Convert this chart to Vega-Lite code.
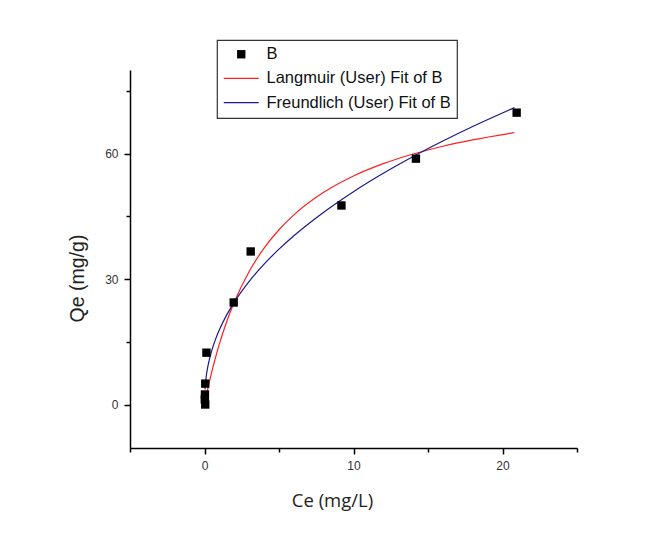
{
  "$schema": "https://vega.github.io/schema/vega-lite/v6.json",
  "autosize": "none",
  "width": 447,
  "height": 378,
  "padding": {"left": 130, "top": 70, "right": 82, "bottom": 85},
  "background": "white",
  "config": {
    "view": {"stroke": null},
    "axis": {
      "domainColor": "#000",
      "domainWidth": 1.5,
      "tickColor": "#000",
      "tickWidth": 1.5,
      "grid": false,
      "labelFont": "Liberation Sans",
      "labelFontSize": 12,
      "labelColor": "#333",
      "titleFontWeight": "normal",
      "titleColor": "#222"
    },
    "legend": {
      "orient": "none",
      "legendX": 87,
      "legendY": -30,
      "strokeColor": "#333",
      "strokeWidth": 1.2,
      "padding": 6,
      "labelFont": "Liberation Sans",
      "labelFontSize": 16.5,
      "labelColor": "#111",
      "labelOffset": 17,
      "symbolOffset": 10,
      "rowPadding": 7.2,
      "symbolSize": 1225,
      "symbolStrokeWidth": 1.2,
      "labelLimit": 400
    }
  },
  "data": {
    "values": [
      {"series": "B", "Ce": 0.05, "Qe": 0},
      {"series": "B", "Ce": 0.02, "Qe": 1.2},
      {"series": "B", "Ce": 0.03, "Qe": 2.4},
      {"series": "B", "Ce": 0.05, "Qe": 5.0},
      {"series": "B", "Ce": 0.13, "Qe": 12.4},
      {"series": "B", "Ce": 1.96, "Qe": 24.4},
      {"series": "B", "Ce": 3.1, "Qe": 36.6},
      {"series": "B", "Ce": 9.19, "Qe": 47.6},
      {"series": "B", "Ce": 14.19, "Qe": 58.8},
      {"series": "B", "Ce": 20.95, "Qe": 69.8},
      {"series": "Langmuir (User) Fit of B", "Ce": 0.02, "Qe": 0.35},
      {"series": "Langmuir (User) Fit of B", "Ce": 0.1, "Qe": 1.74},
      {"series": "Langmuir (User) Fit of B", "Ce": 0.25, "Qe": 4.21},
      {"series": "Langmuir (User) Fit of B", "Ce": 0.5, "Qe": 7.99},
      {"series": "Langmuir (User) Fit of B", "Ce": 0.75, "Qe": 11.4},
      {"series": "Langmuir (User) Fit of B", "Ce": 1, "Qe": 14.51},
      {"series": "Langmuir (User) Fit of B", "Ce": 1.5, "Qe": 19.93},
      {"series": "Langmuir (User) Fit of B", "Ce": 2, "Qe": 24.51},
      {"series": "Langmuir (User) Fit of B", "Ce": 3, "Qe": 31.82},
      {"series": "Langmuir (User) Fit of B", "Ce": 4, "Qe": 37.4},
      {"series": "Langmuir (User) Fit of B", "Ce": 5, "Qe": 41.8},
      {"series": "Langmuir (User) Fit of B", "Ce": 6, "Qe": 45.35},
      {"series": "Langmuir (User) Fit of B", "Ce": 8, "Qe": 50.74},
      {"series": "Langmuir (User) Fit of B", "Ce": 10, "Qe": 54.65},
      {"series": "Langmuir (User) Fit of B", "Ce": 12, "Qe": 57.6},
      {"series": "Langmuir (User) Fit of B", "Ce": 14, "Qe": 59.91},
      {"series": "Langmuir (User) Fit of B", "Ce": 16, "Qe": 61.77},
      {"series": "Langmuir (User) Fit of B", "Ce": 18, "Qe": 63.29},
      {"series": "Langmuir (User) Fit of B", "Ce": 20.8, "Qe": 65.02},
      {"series": "Freundlich (User) Fit of B", "Ce": 0.03, "Qe": 3.63},
      {"series": "Freundlich (User) Fit of B", "Ce": 0.1, "Qe": 6.28},
      {"series": "Freundlich (User) Fit of B", "Ce": 0.25, "Qe": 9.52},
      {"series": "Freundlich (User) Fit of B", "Ce": 0.5, "Qe": 13.05},
      {"series": "Freundlich (User) Fit of B", "Ce": 0.75, "Qe": 15.69},
      {"series": "Freundlich (User) Fit of B", "Ce": 1, "Qe": 17.88},
      {"series": "Freundlich (User) Fit of B", "Ce": 1.5, "Qe": 21.5},
      {"series": "Freundlich (User) Fit of B", "Ce": 2, "Qe": 24.5},
      {"series": "Freundlich (User) Fit of B", "Ce": 3, "Qe": 29.46},
      {"series": "Freundlich (User) Fit of B", "Ce": 4, "Qe": 33.57},
      {"series": "Freundlich (User) Fit of B", "Ce": 5, "Qe": 37.15},
      {"series": "Freundlich (User) Fit of B", "Ce": 6, "Qe": 40.36},
      {"series": "Freundlich (User) Fit of B", "Ce": 8, "Qe": 46.0},
      {"series": "Freundlich (User) Fit of B", "Ce": 10, "Qe": 50.91},
      {"series": "Freundlich (User) Fit of B", "Ce": 12, "Qe": 55.3},
      {"series": "Freundlich (User) Fit of B", "Ce": 14, "Qe": 59.32},
      {"series": "Freundlich (User) Fit of B", "Ce": 16, "Qe": 63.03},
      {"series": "Freundlich (User) Fit of B", "Ce": 18, "Qe": 66.5},
      {"series": "Freundlich (User) Fit of B", "Ce": 20.8, "Qe": 71.01}
    ]
  },
  "encoding": {
    "x": {
      "field": "Ce",
      "type": "quantitative",
      "scale": {"domain": [-5, 25], "nice": false, "zero": false},
      "axis": {
        "title": "Ce (mg/L)",
        "titleFont": "Open Sans",
        "titleFontSize": 18.5,
        "titlePadding": 20,
        "titleX": 202,
        "titleAlign": "center",
        "values": [-5, 0, 5, 10, 15, 20, 25],
        "labelExpr": "datum.value % 10 === 0 ? datum.label : ''",
        "tickSize": {"condition": {"test": "datum.value % 10 === 0", "value": 6}, "value": 4},
        "labelPadding": 6,
        "labelFlush": false
      }
    },
    "y": {
      "field": "Qe",
      "type": "quantitative",
      "scale": {"domain": [-10.4, 80], "nice": false, "zero": false},
      "axis": {
        "title": "Qe (mg/g)",
        "titleFont": "Liberation Sans",
        "titleFontSize": 19.5,
        "titlePadding": 17,
        "titleY": 208,
        "titleAlign": "center",
        "values": [0, 15, 30, 45, 60, 75],
        "labelExpr": "datum.value % 30 === 0 ? datum.label : ''",
        "tickSize": {"condition": {"test": "datum.value % 30 === 0", "value": 6}, "value": 4},
        "labelPadding": 6,
        "labelFlush": false
      }
    },
    "color": {
      "field": "series",
      "type": "nominal",
      "scale": {
        "domain": ["B", "Langmuir (User) Fit of B", "Freundlich (User) Fit of B"],
        "range": ["#000000", "#ff2020", "#1a1a8c"]
      },
      "legend": {
        "title": null,
        "encode": {
          "symbols": {
            "update": {
              "shape": {"signal": "datum.value === 'B' ? 'square' : 'stroke'"},
              "size": {"signal": "datum.value === 'B' ? 70 : 1225"},
              "fill": {"signal": "datum.value === 'B' ? '#000' : 'transparent'"},
              "fillOpacity": {"value": 1},
              "stroke": {"signal": "datum.value === 'B' ? '#000' : (datum.value[0] === 'L' ? '#ff2020' : '#1a1a8c')"},
              "strokeWidth": {"signal": "datum.value === 'B' ? 0 : 1.2"},
              "opacity": {"value": 1}
            }
          }
        }
      }
    }
  },
  "layer": [
    {
      "transform": [{"filter": "datum.series !== 'B'"}],
      "mark": {"type": "line", "strokeWidth": 1.2, "interpolate": "monotone"}
    },
    {
      "transform": [{"filter": "datum.series === 'B'"}],
      "mark": {"type": "point", "shape": "square", "filled": true, "size": 70, "opacity": 1}
    }
  ]
}
